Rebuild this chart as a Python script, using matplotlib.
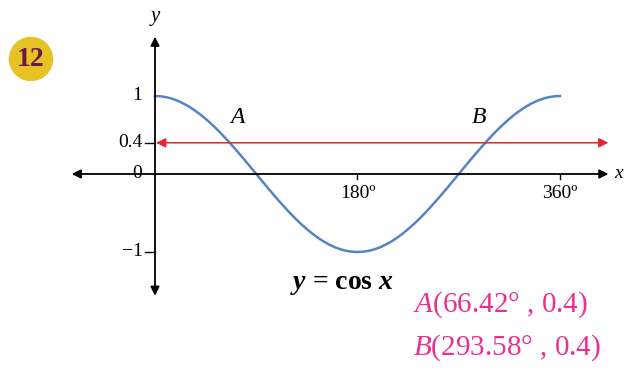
import matplotlib
matplotlib.use('Agg')
import matplotlib.pyplot as plt
from matplotlib.patches import Circle

# valeurs lues sur la courbe y = cos x (pas de 5 degres)
angles = list(range(0, 361, 5))
cos_vals = [1.000, 0.996, 0.985, 0.966, 0.940, 0.906, 0.866, 0.819, 0.766,
            0.707, 0.643, 0.574, 0.500, 0.423, 0.342, 0.259, 0.174, 0.087,
            0.000, -0.087, -0.174, -0.259, -0.342, -0.423, -0.500, -0.574,
            -0.643, -0.707, -0.766, -0.819, -0.866, -0.906, -0.940, -0.966,
            -0.985, -0.996, -1.000, -0.996, -0.985, -0.966, -0.940, -0.906,
            -0.866, -0.819, -0.766, -0.707, -0.643, -0.574, -0.500, -0.423,
            -0.342, -0.259, -0.174, -0.087, 0.000, 0.087, 0.174, 0.259,
            0.342, 0.423, 0.500, 0.574, 0.643, 0.707, 0.766, 0.819, 0.866,
            0.906, 0.940, 0.966, 0.985, 0.996, 1.000]

line_y = 0.4
x_ticks = [180, 360]
x_labels = ['180º', '360º']
y_ticks = [1, 0.4, 0, -1]
y_labels = ['1', '0.4', '0', '\u22121']
y_marked = [0.4, -1]          # graduations dessinees sur l'axe
points = ['A', 'B']
points_x = [66.42, 293.58]
label_dx = [7, -6]            # decalage des lettres A et B

plt.rcParams['font.family'] = ['Liberation Serif', 'DejaVu Serif']
plt.rcParams['mathtext.fontset'] = 'custom'
plt.rcParams['mathtext.rm'] = 'Liberation Serif'
plt.rcParams['mathtext.it'] = 'Liberation Serif:italic'
plt.rcParams['mathtext.bf'] = 'Liberation Serif:bold:italic'

fig = plt.figure(figsize=(6.24, 3.70), dpi=100)
ax = fig.add_axes([0, 0, 1, 1])
# 1.125 px par degre, 78 px par unite, origine a (155, 174) px
ax.set_xlim(-155 / 1.125, 469 / 1.125)
ax.set_ylim(-196 / 78, 174 / 78)
ax.axis('off')

black_arrow = dict(arrowstyle='<|-|>', color='black', lw=1.3,
                   mutation_scale=13, shrinkA=0, shrinkB=0)
ax.annotate('', xy=(403, 0), xytext=(-74, 0), arrowprops=black_arrow)
ax.annotate('', xy=(0, 1.76), xytext=(0, -1.56), arrowprops=black_arrow)
ax.text(408, 0, 'x', style='italic', fontsize=14, va='center', ha='left')
ax.text(0, 2.02, 'y', style='italic', fontsize=15, va='center', ha='center')

# graduations
for xt, lab in zip(x_ticks, x_labels):
    ax.plot([xt, xt], [0, -0.07], color='black', lw=1)
    ax.text(xt, -0.25, lab, fontsize=14, ha='center', va='center')
for yt, lab in zip(y_ticks, y_labels):
    if yt in y_marked:
        ax.plot([-9, 0], [yt, yt], color='black', lw=1)
        ax.text(-11, yt, lab, fontsize=14, ha='right', va='center')
    else:
        ax.text(-16, yt, lab, fontsize=14, ha='center', va='center')

# droite y = 0.4
ax.annotate('', xy=(403, line_y), xytext=(1, line_y),
            arrowprops=dict(arrowstyle='<|-|>', color='#e8232b', lw=1.1,
                            mutation_scale=14, shrinkA=0, shrinkB=0))

ax.plot(angles, cos_vals, color='#5584c0', lw=1.8)

for name, px, dx in zip(points, points_x, label_dx):
    ax.text(px + dx, line_y + 0.33, name, style='italic', fontsize=17,
            ha='center', va='center')

ax.text(166, -1.42, r'$\mathbf{y}$ = cos $\mathbf{x}$', fontsize=20,
        fontweight='bold', ha='center', va='center')

pink = '#e8318f'
for i, (name, px) in enumerate(zip(points, points_x)):
    ax.text(229, -1.67 - 0.56 * i,
            rf'$\mathit{{{name}}}$({px:.2f}° , {line_y})',
            fontsize=21, color=pink, ha='left', va='center')

# pastille du numero d'exercice
fig.patches.append(Circle((0.31, 3.11), 0.215, transform=fig.dpi_scale_trans,
                          color='#e6c226'))
fig.text(31 / 624, 1 - 59 / 370, '12', fontsize=20, fontweight='bold',
         color='#6b1a45', ha='center', va='center')

fig.savefig('out.png', dpi=100)
